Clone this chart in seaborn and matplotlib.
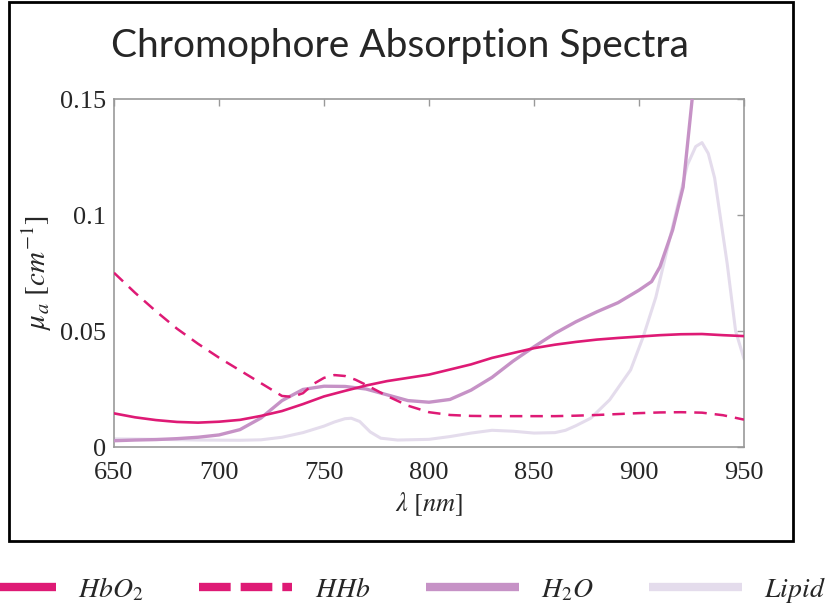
import numpy as np
import pandas as pd
import matplotlib
matplotlib.use("Agg")
import matplotlib.pyplot as plt
import seaborn as sns
from matplotlib.lines import Line2D
from matplotlib.patches import Rectangle

# ---------------- data ----------------
hbo2_wl = [650, 660, 670, 680, 690, 700, 710, 720, 730, 740, 750, 760, 770, 780, 790,
           800, 810, 820, 830, 840, 850, 860, 870, 880, 890, 900, 910, 920, 930, 940, 950]
hbo2_mu = [0.0145, 0.0128, 0.0116, 0.0108, 0.0105, 0.0109, 0.0117, 0.0134, 0.0155, 0.0185,
           0.0218, 0.0242, 0.0265, 0.0284, 0.0298, 0.0312, 0.0334, 0.0356, 0.0384, 0.0405,
           0.0426, 0.0441, 0.0453, 0.0463, 0.0470, 0.0476, 0.0482, 0.0486, 0.0487, 0.0482, 0.0478]

hhb_wl = [650, 660, 670, 680, 690, 700, 710, 720, 730, 735, 740, 745, 750, 755, 760, 765,
          770, 780, 790, 800, 810, 820, 830, 840, 850, 860, 870, 880, 890, 900, 910, 920,
          930, 940, 950]
hhb_mu = [0.0751, 0.0665, 0.0585, 0.0510, 0.0445, 0.0385, 0.0330, 0.0275, 0.0220, 0.0216,
          0.0232, 0.0272, 0.0298, 0.0310, 0.0306, 0.0290, 0.0268, 0.0220, 0.0178, 0.0150,
          0.0138, 0.0134, 0.0133, 0.0133, 0.0133, 0.0133, 0.0135, 0.0138, 0.0142, 0.0146,
          0.0149, 0.0150, 0.0148, 0.0137, 0.0118]

h2o_wl = [650, 660, 670, 680, 690, 700, 710, 720, 730, 740, 750, 760, 770, 780, 790, 800,
          810, 820, 830, 840, 850, 860, 870, 880, 890, 900, 906, 910, 916, 921, 926]
h2o_mu = [0.0027, 0.0030, 0.0032, 0.0036, 0.0042, 0.0052, 0.0075, 0.0125, 0.0200, 0.0248,
          0.0262, 0.0261, 0.0250, 0.0225, 0.0200, 0.0193, 0.0205, 0.0245, 0.0300, 0.0370,
          0.0432, 0.0490, 0.0540, 0.0583, 0.0622, 0.0676, 0.0713, 0.0777, 0.0935, 0.1120, 0.1560]

lipid_wl = [650, 670, 690, 710, 720, 730, 740, 750, 755, 760, 763, 767, 772, 777, 785, 800,
            810, 820, 830, 840, 850, 860, 865, 870, 877, 886, 896, 902, 908, 916, 923, 927,
            930, 933, 936, 942, 946, 950]
lipid_mu = [0.0035, 0.0033, 0.0030, 0.0029, 0.0031, 0.0042, 0.0062, 0.0090, 0.0108, 0.0122,
            0.0124, 0.0110, 0.0065, 0.0038, 0.0030, 0.0033, 0.0045, 0.0060, 0.0072, 0.0068,
            0.0060, 0.0062, 0.0072, 0.0092, 0.0124, 0.0203, 0.0332, 0.0475, 0.0645, 0.0950,
            0.1215, 0.1295, 0.1312, 0.1265, 0.1160, 0.0790, 0.0500, 0.0380]

x_ticks = [650, 700, 750, 800, 850, 900, 950]
y_ticks = [0, 0.05, 0.1, 0.15]
y_tick_labels = ["0", "0.05", "0.1", "0.15"]
labels = [r"$HbO_2$", r"$HHb$", r"$H_2O$", r"$Lipid$"]

# ---------------- style ----------------
sns.set_theme(style="white")
plt.rcParams["mathtext.fontset"] = "stix"
plt.rcParams["font.family"] = ["Liberation Serif", "DejaVu Serif"]

c_hb = "#DE1A75"
c_h2o = "#C692C6"
c_lip = "#E4DCEC"

fig = plt.figure(figsize=(8.27, 6.09), dpi=100)
ax = fig.add_axes([114 / 827, 1 - 447 / 609, (744 - 114) / 827, (447 - 99) / 609])

sns.lineplot(x=lipid_wl, y=lipid_mu, ax=ax, color=c_lip, lw=2.2, zorder=2)
sns.lineplot(x=h2o_wl, y=h2o_mu, ax=ax, color=c_h2o, lw=2.4, zorder=3)
sns.lineplot(x=hhb_wl, y=hhb_mu, ax=ax, color=c_hb, lw=1.8, zorder=4)
ax.lines[-1].set_dashes([5, 3.2])
sns.lineplot(x=hbo2_wl, y=hbo2_mu, ax=ax, color=c_hb, lw=1.9, zorder=5)

ax.set_xlim(650, 950)
ax.set_ylim(0, 0.15)
ax.set_xticks(x_ticks)
ax.set_xticklabels([str(t) for t in x_ticks])
ax.set_yticks(y_ticks)
ax.set_yticklabels(y_tick_labels)
ax.tick_params(direction="in", length=5, width=1, color="#999999", labelsize=19,
               top=True, right=True)
ax.tick_params(axis="x", pad=11)
ax.tick_params(axis="y", pad=6)
for s in ax.spines.values():
    s.set_color("#999999")
    s.set_linewidth(1.2)

ax.set_xlabel(r"$\lambda\ [nm]$", fontsize=19, labelpad=4)
ax.set_ylabel(r"$\mu_a\ [cm^{-1}]$", fontsize=21, labelpad=4)

fig.text(0.483, 0.925, "Chromophore Absorption Spectra", family="Lato",
         fontsize=28, ha="center", va="center")

# outer frame
fig.patches.append(Rectangle((9 / 827, 1 - 541 / 609), (793 - 9) / 827, (541 - 2) / 609,
                             transform=fig.transFigure, fill=False, edgecolor="black",
                             lw=2, clip_on=False))

handles = [Line2D([], [], color=c_hb, lw=6, solid_capstyle="butt"),
           Line2D([], [], color=c_hb, lw=6, dashes=[3.8, 1.2], dash_capstyle="butt"),
           Line2D([], [], color=c_h2o, lw=6, solid_capstyle="butt"),
           Line2D([], [], color=c_lip, lw=6, solid_capstyle="butt")]
fig.legend(handles, labels, loc="center", bbox_to_anchor=(0.477, 0.031), ncol=4,
           frameon=False, fontsize=20, handlelength=3.35, handletextpad=0.8,
           columnspacing=2.0, borderpad=0, borderaxespad=0)

fig.savefig("out.png", dpi=100)
